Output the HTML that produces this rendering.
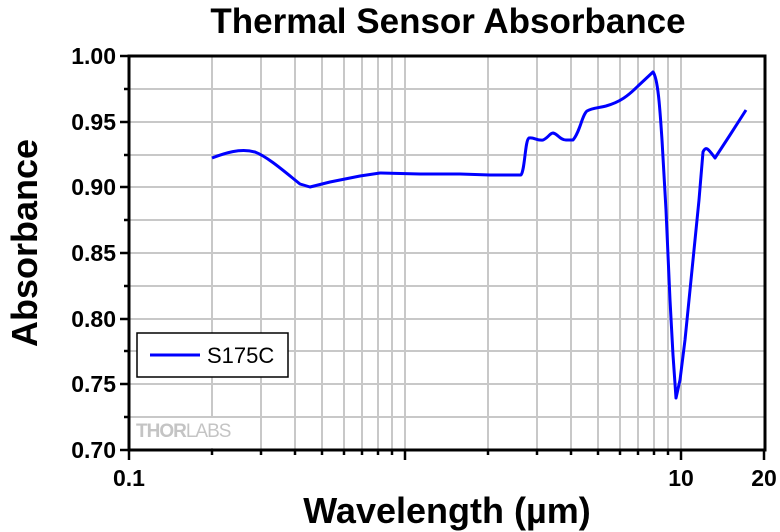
<!DOCTYPE html>
<html><head><meta charset="utf-8"><style>
body{margin:0;background:#fff}
svg{display:block;font-family:"Liberation Sans",Arial,sans-serif}
</style></head><body>
<svg width="780" height="532" xmlns="http://www.w3.org/2000/svg">
<rect width="780" height="532" fill="#fff"/>
<g stroke="#c8c8c8" stroke-width="2">
<line x1="212" y1="56" x2="212" y2="450"/><line x1="261" y1="56" x2="261" y2="450"/>
<line x1="295" y1="56" x2="295" y2="450"/><line x1="322" y1="56" x2="322" y2="450"/>
<line x1="344" y1="56" x2="344" y2="450"/><line x1="362" y1="56" x2="362" y2="450"/>
<line x1="378" y1="56" x2="378" y2="450"/><line x1="392" y1="56" x2="392" y2="450"/>
<line x1="405" y1="56" x2="405" y2="450"/>
<line x1="488" y1="56" x2="488" y2="450"/><line x1="537" y1="56" x2="537" y2="450"/>
<line x1="571" y1="56" x2="571" y2="450"/><line x1="598" y1="56" x2="598" y2="450"/>
<line x1="620" y1="56" x2="620" y2="450"/><line x1="638" y1="56" x2="638" y2="450"/>
<line x1="654" y1="56" x2="654" y2="450"/><line x1="668" y1="56" x2="668" y2="450"/>
<line x1="681" y1="56" x2="681" y2="450"/>
<line x1="129" y1="89" x2="765" y2="89"/><line x1="129" y1="122" x2="765" y2="122"/>
<line x1="129" y1="155" x2="765" y2="155"/><line x1="129" y1="187" x2="765" y2="187"/>
<line x1="129" y1="220" x2="765" y2="220"/><line x1="129" y1="253" x2="765" y2="253"/>
<line x1="129" y1="286" x2="765" y2="286"/><line x1="129" y1="319" x2="765" y2="319"/>
<line x1="129" y1="351" x2="765" y2="351"/><line x1="129" y1="384" x2="765" y2="384"/>
<line x1="129" y1="417" x2="765" y2="417"/>
</g>
<rect x="131" y="418" width="100" height="30" fill="#fff"/>
<text x="136" y="437" font-size="19" font-weight="bold" fill="#c4c4c4" letter-spacing="-1">THOR<tspan font-weight="normal">LABS</tspan></text>
<path d="M212,158 C225,153 240,148 255,152 C268,157 285,172 300,184 L310,187 L330,182 L360,176 L380,173 L420,174 L460,174 L490,175 L521,175 C525,170 525,140 529,138 C534,137 537,141 543,140 C548,138 550,133 553,133 C558,134 560,140 566,140 L573,140 C580,132 582,115 587,111 C592,108 598,108 606,106 C620,102 628,96 638,86 L653,72 C658,78 660,110 662,140 L666,210 L670,300 L673,355 L676,398 L680,380 L685,340 L692,270 L699,200 L703,152 C706,145 709,150 715,158 L730,135 L746,110" fill="none" stroke="#0000ff" stroke-width="3" stroke-linejoin="round"/>
<rect x="137" y="333" width="151" height="44" fill="#fff" stroke="#000" stroke-width="1.5"/>
<line x1="150" y1="355" x2="200" y2="355" stroke="#0000ff" stroke-width="3"/>
<text x="207" y="363" font-size="22">S175C</text>
<rect x="129" y="56" width="636" height="394" fill="none" stroke="#000" stroke-width="3"/>
<g stroke="#000" stroke-width="2.5">
<line x1="120" y1="56" x2="129" y2="56"/><line x1="120" y1="122" x2="129" y2="122"/>
<line x1="120" y1="187" x2="129" y2="187"/><line x1="120" y1="253" x2="129" y2="253"/>
<line x1="120" y1="319" x2="129" y2="319"/><line x1="120" y1="384" x2="129" y2="384"/>
<line x1="120" y1="450" x2="129" y2="450"/>
<line x1="124" y1="89" x2="129" y2="89"/><line x1="124" y1="155" x2="129" y2="155"/>
<line x1="124" y1="220" x2="129" y2="220"/><line x1="124" y1="286" x2="129" y2="286"/>
<line x1="124" y1="351" x2="129" y2="351"/><line x1="124" y1="417" x2="129" y2="417"/>
<line x1="129" y1="450" x2="129" y2="460"/><line x1="405" y1="450" x2="405" y2="460"/>
<line x1="681" y1="450" x2="681" y2="460"/><line x1="764" y1="450" x2="764" y2="460"/>
<line x1="212" y1="450" x2="212" y2="455"/><line x1="261" y1="450" x2="261" y2="455"/>
<line x1="295" y1="450" x2="295" y2="455"/><line x1="322" y1="450" x2="322" y2="455"/>
<line x1="344" y1="450" x2="344" y2="455"/><line x1="362" y1="450" x2="362" y2="455"/>
<line x1="378" y1="450" x2="378" y2="455"/><line x1="392" y1="450" x2="392" y2="455"/>
<line x1="488" y1="450" x2="488" y2="455"/><line x1="537" y1="450" x2="537" y2="455"/>
<line x1="571" y1="450" x2="571" y2="455"/><line x1="598" y1="450" x2="598" y2="455"/>
<line x1="620" y1="450" x2="620" y2="455"/><line x1="638" y1="450" x2="638" y2="455"/>
<line x1="654" y1="450" x2="654" y2="455"/><line x1="668" y1="450" x2="668" y2="455"/>
</g>
<g font-size="23" font-weight="bold" text-anchor="end">
<text x="116" y="64">1.00</text><text x="116" y="130">0.95</text>
<text x="116" y="195">0.90</text><text x="116" y="261">0.85</text>
<text x="116" y="327">0.80</text><text x="116" y="392">0.75</text>
<text x="116" y="458">0.70</text>
</g>
<g font-size="23" font-weight="bold" text-anchor="middle">
<text x="129" y="486">0.1</text><text x="681" y="486">10</text><text x="764" y="486">20</text>
</g>
<text x="448" y="33" font-size="35" font-weight="bold" text-anchor="middle">Thermal Sensor Absorbance</text>
<text x="447" y="523" font-size="36" font-weight="bold" text-anchor="middle">Wavelength (µm)</text>
<text transform="translate(37,243) rotate(-90)" font-size="36" font-weight="bold" text-anchor="middle">Absorbance</text>
</svg>
</body></html>
